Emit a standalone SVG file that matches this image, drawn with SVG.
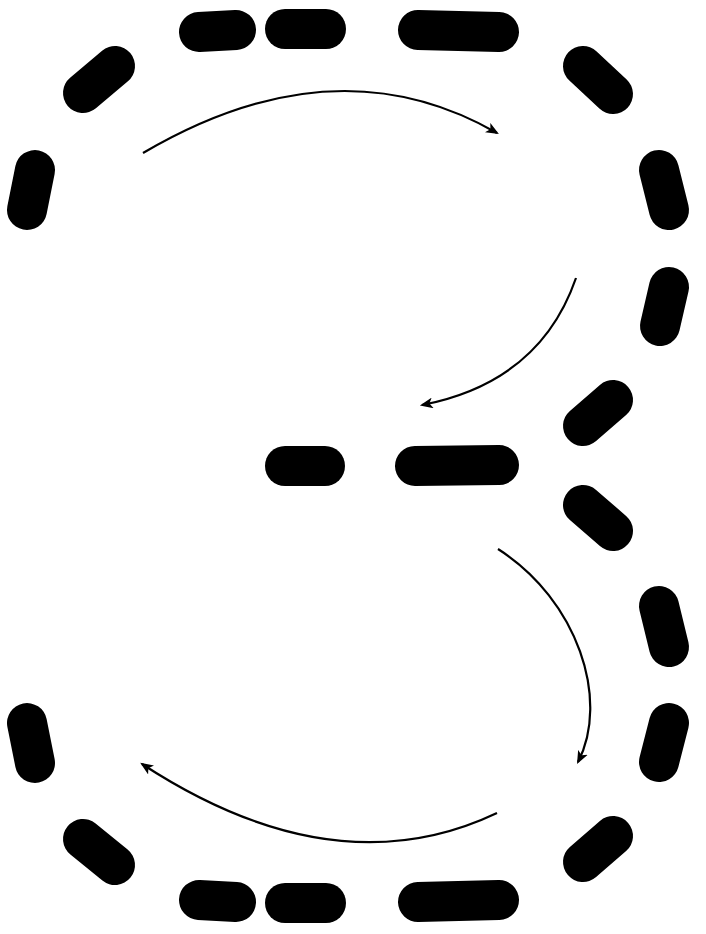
<svg xmlns="http://www.w3.org/2000/svg" width="706" height="934" viewBox="0 0 706 934">
<style>
.d{stroke:#000;stroke-width:40;stroke-linecap:round;fill:none}
.a{stroke:#000;stroke-width:2.2;fill:none;marker-end:url(#ah)}
</style>
<defs>
<marker id="ah" viewBox="0 0 12 10" refX="10" refY="5" markerWidth="13" markerHeight="11" markerUnits="userSpaceOnUse" orient="auto">
<path d="M0,0 L12,5 L0,10 L3,5 Z" fill="#000"/>
</marker>
</defs>
<rect width="706" height="934" fill="#fff"/>
<g id="outline">
<line class="d" x1="199" y1="32" x2="236" y2="30"/>
<line class="d" x1="285" y1="29" x2="326" y2="29"/>
<line class="d" x1="418" y1="30" x2="499" y2="32"/>
<line class="d" x1="83" y1="93" x2="115" y2="66"/>
<line class="d" x1="35" y1="170" x2="27" y2="210"/>
<line class="d" x1="583" y1="66" x2="613" y2="94"/>
<line class="d" x1="659" y1="170" x2="669" y2="210"/>
<line class="d" x1="669" y1="287" x2="660" y2="326"/>
<line class="d" x1="583" y1="426" x2="613" y2="400"/>
<line class="d" x1="285" y1="466" x2="325" y2="466"/>
<line class="d" x1="415" y1="466" x2="499" y2="465"/>
<line class="d" x1="583" y1="505" x2="613" y2="531"/>
<line class="d" x1="659" y1="606" x2="669" y2="647"/>
<line class="d" x1="669" y1="723" x2="659" y2="762"/>
<line class="d" x1="583" y1="862" x2="613" y2="836"/>
<line class="d" x1="199" y1="900" x2="236" y2="902"/>
<line class="d" x1="285" y1="903" x2="326" y2="903"/>
<line class="d" x1="418" y1="902" x2="499" y2="900"/>
<line class="d" x1="83" y1="839" x2="115" y2="865"/>
<line class="d" x1="27" y1="723" x2="35" y2="763"/>
</g>
<g id="connectors">
<path class="a" d="M143,153 Q335,40 497,133"/>
<path class="a" d="M576,278 Q540,382 422,405"/>
<path class="a" d="M498,549 C578,600 610,700 578,762"/>
<path class="a" d="M497,813 Q335,890 142,764"/>
</g>
</svg>
